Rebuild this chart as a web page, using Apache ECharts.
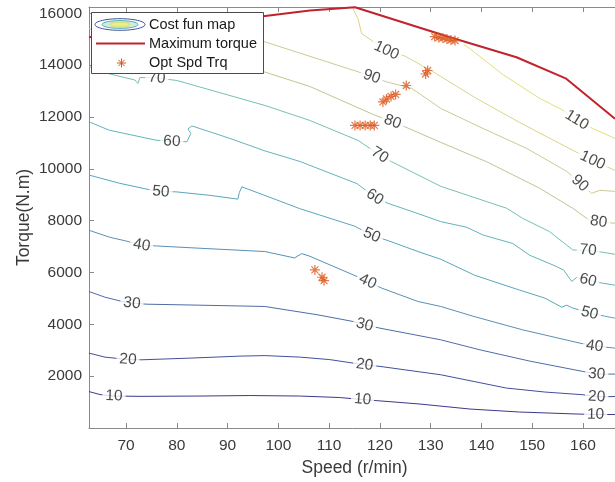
<!DOCTYPE html>
<html>
<head>
<meta charset="utf-8">
<script src="https://cdn.jsdelivr.net/npm/echarts@6/dist/echarts.min.js"></script>
<style>
  html, body { margin: 0; padding: 0; background: #ffffff; }
  #chart { width: 615px; height: 482px; }
</style>
</head>
<body>
<div id="chart"></div>
<script>
// Axis ticks
const speedTicks = [70, 80, 90, 100, 110, 120, 130, 140, 150, 160];
const torqueTicks = [2000, 4000, 6000, 8000, 10000, 12000, 14000, 16000];

// Contour levels of the cost function
const levels = [10, 20, 30, 40, 50, 60, 70, 80, 90, 100, 110];

// Contour paths: [speed (r/min), torque (N.m)]
const contour10 = [[62.7,1406],[64.87,1290],[67.62,1233],[72.94,1221],[84.55,1233],[94.39,1252],[104.2,1233],[112.1,1175],[116.6,1098],[119.6,1052],[127.9,924],[137.7,732],[147.5,616],[158.8,539],[162.5,520],[166.3,520]];
const contour20 = [[62.7,2889],[65.85,2735],[70.38,2639],[73.13,2631],[82.58,2696],[92.42,2773],[97.35,2793],[104.2,2735],[110.1,2639],[117.0,2438],[120.0,2377],[132.0,2053],[144.9,1541],[152.5,1387],[160.0,1283],[162.7,1206],[166.3,1213]];
const contour30 = [[62.7,5266],[65.85,5046],[69.0,4892],[71.16,4815],[74.12,4776],[84.55,4738],[97.35,4688],[107.8,4364],[114.7,4110],[117.0,3979],[120.0,3852],[132.0,3401],[139.7,3016],[149.5,2581],[159.9,2184],[162.7,2080],[166.3,2080]];
const contour40 = [[62.7,7627],[66.83,7357],[69.98,7215],[73.07,7049],[76.03,7022],[84.55,6934],[97.35,6807],[103.2,6560],[104.6,6729],[106.2,6625],[115.5,5843],[117.6,5651],[120.4,5393],[127.5,4880],[132.0,4688],[138.3,4314],[148.1,3787],[159.4,3274],[162.3,3159],[166.3,3082]];
const contour50 = [[62.7,9757],[68.8,9437],[74.71,9187],[76.87,9118],[79.83,9110],[86.52,8975],[92.03,8829],[92.33,9091],[92.82,9303],[98.33,8898],[104.2,8463],[115.1,7781],[118.4,7434],[121.4,7242],[127.9,6779],[132.0,6510],[138.7,5890],[147.5,5320],[152.5,5010],[155.8,4661],[156.8,4738],[157.8,4642],[161.3,4430],[164.3,4314],[166.3,4237]];
const contour60 = [[62.7,11814],[66.64,11491],[75.83,11105],[79.04,11055],[81.99,11044],[82.78,11363],[82.19,11537],[82.98,11652],[90.46,11171],[97.35,10689],[104.2,10285],[115.5,9426],[119.0,8910],[121.6,8667],[127.9,8243],[132.0,7962],[137.1,7743],[140.3,7446],[146.2,7115],[149.5,6664],[154.8,6229],[156.2,6086],[157.8,5651],[158.8,5817],[161.0,5701],[163.9,5585],[166.3,5508]];
const contour70 = [[62.7,13944],[66.44,13675],[71.75,13424],[72.35,13289],[72.74,13521],[76.09,13502],[80.02,13405],[97.35,12442],[106.2,11864],[115.7,11094],[120.0,10527],[122.3,10273],[132.0,9322],[145.0,8474],[148.1,8089],[153.4,7577],[158.0,6868],[161.0,6857],[163.9,6779],[166.3,6702]];
const contour80 = [[62.7,15408],[80.6,14561],[97.0,13752],[106.2,13174],[119.0,12068],[122.5,11814],[124.9,11622],[132.0,11017],[141.0,10273],[151.5,9245],[158.0,8474],[161.0,8050],[163.1,7954],[166.3,7900]];
const contour90 = [[84.55,15639],[97.35,14896],[115.7,13740],[118.4,13547],[121.3,13355],[126.3,13097],[132.0,12326],[140.3,11556],[148.9,10786],[156.8,9900],[159.4,9437],[161.7,9052],[163.3,9168],[166.3,9129]];
const contour100 = [[114.7,16167],[115.7,15782],[116.4,15215],[118.4,14946],[121.3,14561],[124.9,14349],[130.4,13752],[132.0,13559],[138.7,12750],[147.5,11787],[155.4,10978],[158.8,10632],[161.9,10323],[166.3,9938]];
const contour110 = [[136.5,14792],[137.7,14638],[144.2,13636],[151.5,12712],[155.8,12288],[158.8,11876],[161.9,11556],[166.3,11171]];

// Where each level's value is written along its contour
const labels10 = [[67.62,1233],[116.6,1098],[162.5,520]];
const labels20 = [[70.38,2639],[117.0,2438],[162.7,1206]];
const labels30 = [[71.16,4815],[117.0,3979],[162.7,2080]];
const labels40 = [[73.07,7049],[117.6,5651],[162.3,3159]];
const labels50 = [[76.87,9118],[118.4,7434],[161.3,4430]];
const labels60 = [[79.04,11055],[119.0,8910],[161.0,5701]];
const labels70 = [[76.09,13502],[120.0,10527],[161.0,6857]];
const labels80 = [[122.5,11814],[163.1,7954]];
const labels90 = [[118.4,13547],[159.4,9437]];
const labels100 = [[121.3,14561],[161.9,10323]];
const labels110 = [[158.8,11876]];

// Maximum torque envelope
const maxTorque = [[62.7,15069],[97.0,15882],[106.2,16101],[115.1,16229],[133.8,15073],[146.9,14302],[156.7,13474],[166.3,11930]];

// Optimal speed / torque operating points
const optSpdTrq = [
  [130.8,15100],[131.6,15061],[132.4,15042],[133.2,15004],[134.0,14965],[134.8,14946],
  [129.0,13655],[129.4,13790],[125.2,13212],
  [120.6,12577],[121.3,12692],[122.2,12789],[123.1,12866],
  [115.1,11672],[116.1,11672],[117.1,11672],[118.1,11672],[118.9,11672],
  [107.2,6098],[108.6,5816],[109.0,5682]
];

// Line colours per level (parula-like, as printed)
const levelColors = ['#3b3a8b','#424f9a','#4e6ca6','#5a8fb4','#5aa6bb','#63b3bb','#76bfb6','#b9c891','#cdc994','#d9d488','#e0df7a'];

const FONT = '"Liberation Sans", Arial, Helvetica, sans-serif';
const AXIS_COLOR = '#8a8a8a';
const TEXT_COLOR = '#3a3a3a';
const STAR_COLOR = '#dc571d';
const STAR_PATH = 'M8.8 0H11.2V20H8.8Z M0 8.8H20V11.2H0Z M3.9 2.2L17.8 16.1L16.1 17.8L2.2 3.9Z M16.1 2.2L17.8 3.9L3.9 17.8L2.2 16.1Z';

const contours = [
  { level: 10, path: contour10, labels: labels10 },
  { level: 20, path: contour20, labels: labels20 },
  { level: 30, path: contour30, labels: labels30 },
  { level: 40, path: contour40, labels: labels40 },
  { level: 50, path: contour50, labels: labels50 },
  { level: 60, path: contour60, labels: labels60 },
  { level: 70, path: contour70, labels: labels70 },
  { level: 80, path: contour80, labels: labels80 },
  { level: 90, path: contour90, labels: labels90 },
  { level: 100, path: contour100, labels: labels100 },
  { level: 110, path: contour110, labels: labels110 }
];

const X_MIN = 62.71, X_MAX = 167.29, Y_MIN = 0, Y_MAX = 16240;

function pickTick(list) {
  return function (v) {
    for (const t of list) { if (Math.abs(v - t) < 1e-6) return String(t); }
    return '';
  };
}

const chart = echarts.init(document.getElementById('chart'), null, { renderer: 'canvas' });

const series = [];
contours.forEach(function (c) {
  series.push({
    type: 'line',
    name: 'Cost fun map',
    data: c.path,
    showSymbol: false,
    symbol: 'none',
    silent: true,
    z: 2,
    lineStyle: { color: levelColors[levels.indexOf(c.level)], width: 1 }
  });
});
series.push({
  id: 'clabels',
  type: 'scatter',
  data: [],
  symbolSize: 1,
  silent: true,
  z: 3,
  itemStyle: { color: 'rgba(0,0,0,0)' },
  label: {
    show: true,
    position: 'inside',
    formatter: '{b}',
    fontFamily: FONT,
    fontSize: 15.5,
    color: '#1a1a1a',
    backgroundColor: '#ffffff',
    padding: [0, 3]
  }
});
series.push({
  type: 'line',
  name: 'Maximum torque',
  data: maxTorque,
  showSymbol: false,
  symbol: 'none',
  silent: true,
  z: 4,
  lineStyle: { color: '#c0232c', width: 2 }
});
series.push({
  type: 'scatter',
  name: 'Opt Spd Trq',
  data: optSpdTrq,
  symbol: 'path://' + STAR_PATH,
  symbolSize: 10,
  silent: true,
  z: 5,
  itemStyle: { color: STAR_COLOR }
});

function axisCommon() {
  return {
    type: 'value',
    axisLine: { show: true, onZero: false, lineStyle: { color: AXIS_COLOR, width: 1 } },
    axisTick: { show: true, inside: true, length: 5, lineStyle: { color: AXIS_COLOR } },
    splitLine: { show: false }
  };
}

// Legend asterisk drawn as four short strokes
function legendStar(cx, cy, r) {
  const d = r * Math.SQRT1_2;
  return [[cx - r, cy, cx + r, cy], [cx, cy - r, cx, cy + r], [cx - d, cy - d, cx + d, cy + d], [cx - d, cy + d, cx + d, cy - d]]
    .map(function (s) {
      return { type: 'line', z: 101, shape: { x1: s[0], y1: s[1], x2: s[2], y2: s[3] }, style: { stroke: STAR_COLOR, lineWidth: 1 } };
    });
}

const legendElements = [
  { type: 'rect', z: 100, shape: { x: 91.5, y: 12.5, width: 172, height: 61 }, style: { fill: '#ffffff', stroke: '#4a4a4a', lineWidth: 1 } },
  { type: 'ellipse', z: 101, shape: { cx: 120, cy: 24.5, rx: 25, ry: 5.8 }, style: { fill: '#ffffff', stroke: '#3f4f98', lineWidth: 1 } },
  { type: 'ellipse', z: 102, shape: { cx: 120, cy: 24.5, rx: 18, ry: 3.9 }, style: { fill: '#cdeee0', stroke: '#58aeb4', lineWidth: 1 } },
  { type: 'ellipse', z: 103, shape: { cx: 120, cy: 24.5, rx: 10, ry: 2.5 }, style: { fill: '#e8ef8c', stroke: '#d2dc7c', lineWidth: 1 } },
  { type: 'line', z: 101, shape: { x1: 96, y1: 43.5, x2: 145, y2: 43.5 }, style: { stroke: '#c0232c', lineWidth: 2 } },
  { type: 'text', z: 101, x: 149, y: 24.5, style: { text: 'Cost fun map', font: '14.5px ' + FONT, fill: '#1a1a1a', verticalAlign: 'middle' } },
  { type: 'text', z: 101, x: 149, y: 43.5, style: { text: 'Maximum torque', font: '14.5px ' + FONT, fill: '#1a1a1a', verticalAlign: 'middle' } },
  { type: 'text', z: 101, x: 149, y: 62.5, style: { text: 'Opt Spd Trq', font: '14.5px ' + FONT, fill: '#1a1a1a', verticalAlign: 'middle' } }
].concat(legendStar(121.5, 63, 4.5));

const option = {
  animation: false,
  backgroundColor: '#ffffff',
  grid: { left: 89, top: 7, width: 531, height: 421, containLabel: false, outerBoundsMode: 'none' },
  xAxis: [
    Object.assign(axisCommon(), {
      position: 'bottom', min: X_MIN, max: X_MAX,
      minInterval: 10, maxInterval: 10, splitNumber: 10,
      axisLabel: { fontFamily: FONT, fontSize: 15.5, color: TEXT_COLOR, margin: 10, formatter: pickTick(speedTicks), showMinLabel: false, showMaxLabel: false },
      name: 'Speed (r/min)', nameLocation: 'middle', nameGap: 31, nameMoveOverlap: false,
      nameTextStyle: { fontFamily: FONT, fontSize: 17.5, color: TEXT_COLOR }
    }),
    Object.assign(axisCommon(), {
      position: 'top', min: X_MIN, max: X_MAX,
      minInterval: 10, maxInterval: 10, splitNumber: 10,
      axisLabel: { show: false }
    })
  ],
  yAxis: [
    Object.assign(axisCommon(), {
      position: 'left', min: Y_MIN, max: Y_MAX, interval: 2000,
      axisLabel: { fontFamily: FONT, fontSize: 15.5, color: TEXT_COLOR, margin: 7, formatter: pickTick(torqueTicks) },
      name: 'Torque(N.m)', nameLocation: 'middle', nameGap: 56, nameMoveOverlap: false,
      nameTextStyle: { fontFamily: FONT, fontSize: 17.5, color: TEXT_COLOR }
    })
  ],
  series: series,
  graphic: { elements: legendElements }
};

chart.setOption(option);

// Orient each level label along the local direction of its contour
function labelAngle(path, pt) {
  let idx = 0, best = Infinity;
  path.forEach(function (p, i) {
    const d = Math.hypot(p[0] - pt[0], (p[1] - pt[1]) / 150);
    if (d < best) { best = d; idx = i; }
  });
  const a = chart.convertToPixel({ gridIndex: 0 }, path[Math.max(0, idx - 1)]);
  const b = chart.convertToPixel({ gridIndex: 0 }, path[Math.min(path.length - 1, idx + 1)]);
  return Math.atan2(-(b[1] - a[1]), b[0] - a[0]) * 180 / Math.PI;
}

const labelItems = [];
contours.forEach(function (c) {
  c.labels.forEach(function (pt) {
    labelItems.push({ name: String(c.level), value: pt, label: { rotate: labelAngle(c.path, pt) } });
  });
});
chart.setOption({ series: [{ id: 'clabels', data: labelItems }] });
</script>
</body>
</html>
